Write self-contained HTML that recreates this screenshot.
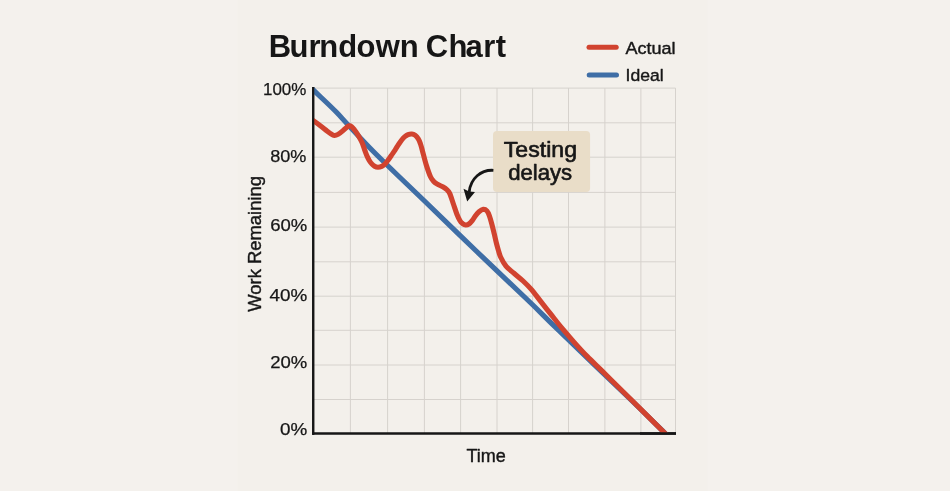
<!DOCTYPE html>
<html lang="en"><head><meta charset="utf-8"><title>Burndown Chart</title>
<style>
html,body{margin:0;padding:0;background:#f4f1ed;}
body{width:950px;height:491px;overflow:hidden;}
svg{display:block;will-change:transform;}
text{font-family:"Liberation Sans",sans-serif;fill:#161616;}
.m{stroke:#161616;stroke-width:0.4px;paint-order:stroke;stroke-linejoin:round;}
.l{stroke:#161616;stroke-width:0.25px;paint-order:stroke;stroke-linejoin:round;}
.c{stroke:#161616;stroke-width:0.65px;paint-order:stroke;stroke-linejoin:round;}
</style></head><body>
<svg width="950" height="491" viewBox="0 0 950 491">
<rect width="950" height="491" fill="#f4f1ed"/>
<rect x="237.7" y="0" width="470" height="491" fill="#f3f0eb"/>
<g stroke="#d6d2cd" stroke-width="1" fill="none"><line x1="350.4" y1="88.1" x2="350.4" y2="433.4"/><line x1="387.6" y1="88.1" x2="387.6" y2="433.4"/><line x1="424.4" y1="88.1" x2="424.4" y2="433.4"/><line x1="460.6" y1="88.1" x2="460.6" y2="433.4"/><line x1="497.0" y1="88.1" x2="497.0" y2="433.4"/><line x1="532.6" y1="88.1" x2="532.6" y2="433.4"/><line x1="568.5" y1="88.1" x2="568.5" y2="433.4"/><line x1="604.9" y1="88.1" x2="604.9" y2="433.4"/><line x1="640.9" y1="88.1" x2="640.9" y2="433.4"/><line x1="675.5" y1="88.1" x2="675.5" y2="433.4"/><line x1="313.5" y1="88.1" x2="675.5" y2="88.1"/><line x1="313.5" y1="122.8" x2="675.5" y2="122.8"/><line x1="313.5" y1="157.2" x2="675.5" y2="157.2"/><line x1="313.5" y1="192.4" x2="675.5" y2="192.4"/><line x1="313.5" y1="227.1" x2="675.5" y2="227.1"/><line x1="313.5" y1="261.8" x2="675.5" y2="261.8"/><line x1="313.5" y1="296.2" x2="675.5" y2="296.2"/><line x1="313.5" y1="330.3" x2="675.5" y2="330.3"/><line x1="313.5" y1="365.0" x2="675.5" y2="365.0"/><line x1="313.5" y1="399.5" x2="675.5" y2="399.5"/></g>
<line x1="313.2" y1="86.9" x2="313.2" y2="434.7" stroke="#161616" stroke-width="2.1"/>
<line x1="312.3" y1="433.4" x2="676" y2="433.4" stroke="#161616" stroke-width="2.5"/>
<defs><clipPath id="plot"><rect x="313.3" y="87" width="370" height="346.4"/></clipPath></defs>
<g clip-path="url(#plot)">
<path d="M309.0 85.8 C309.7 86.5 310.7 87.5 313.3 89.9 C315.9 92.4 320.5 96.8 324.4 100.5 C328.3 104.2 332.4 108.1 336.5 112.3 C340.6 116.5 342.7 119.1 348.7 125.5 C354.7 131.9 364.2 142.2 372.4 150.5 C380.6 158.8 389.3 167.2 397.9 175.5 C406.5 183.8 411.0 188.0 424.0 200.5 C437.0 213.0 458.3 233.8 475.7 250.5 C493.1 267.2 514.4 287.2 528.2 300.5 C542.1 313.8 541.6 313.8 558.8 330.5 C576.0 347.2 613.9 383.4 631.6 400.5 C649.3 417.6 658.6 426.9 664.8 433.0 C671.0 439.1 668.2 436.3 668.9 437.0" fill="none" stroke="#3f6ea6" stroke-width="5.1"/>
<path d="M309.0 117.4 C309.8 118.0 311.7 119.4 313.5 120.7 C315.3 122.0 317.8 123.7 320.0 125.4 C322.2 127.1 325.2 129.5 327.0 130.9 C328.8 132.3 329.8 133.1 331.0 133.9 C332.2 134.7 333.1 135.4 334.3 135.5 C335.5 135.6 336.6 135.2 338.0 134.4 C339.4 133.6 341.6 131.8 343.0 130.6 C344.4 129.4 345.5 128.2 346.5 127.4 C347.5 126.6 348.1 126.0 349.0 125.9 C349.9 125.8 350.8 126.0 351.7 126.7 C352.6 127.4 353.4 128.5 354.4 129.8 C355.4 131.1 356.6 132.8 357.6 134.4 C358.6 136.0 359.5 137.6 360.4 139.3 C361.3 141.0 362.1 142.5 362.8 144.4 C363.6 146.3 364.1 148.4 364.9 150.5 C365.7 152.6 366.6 155.2 367.4 156.9 C368.2 158.7 368.9 159.8 369.6 161.0 C370.3 162.2 371.0 163.0 371.8 163.9 C372.6 164.8 373.6 165.6 374.6 166.2 C375.6 166.8 376.8 167.2 378.0 167.2 C379.2 167.2 380.6 166.9 381.7 166.4 C382.8 165.9 383.9 164.9 384.9 164.0 C385.8 163.1 386.3 162.4 387.4 161.0 C388.5 159.6 390.0 157.4 391.3 155.5 C392.6 153.6 394.0 151.6 395.2 149.8 C396.4 148.0 397.4 146.1 398.5 144.5 C399.6 142.9 400.5 141.5 401.5 140.2 C402.5 138.9 403.4 137.8 404.5 136.9 C405.6 136.0 406.8 135.1 408.0 134.6 C409.2 134.1 410.6 133.9 411.8 134.0 C413.0 134.1 414.1 134.5 415.2 135.3 C416.3 136.1 417.4 137.4 418.3 138.8 C419.2 140.2 419.8 142.0 420.5 144.0 C421.2 146.0 421.4 147.1 422.4 150.7 C423.4 154.3 425.0 161.1 426.4 165.4 C427.8 169.8 429.3 174.2 430.5 176.8 C431.7 179.4 432.4 180.0 433.5 181.2 C434.6 182.4 435.7 183.2 437.3 184.2 C438.9 185.2 441.6 186.1 443.2 187.0 C444.8 187.9 445.9 188.7 447.0 189.8 C448.1 190.9 448.7 191.2 449.8 193.6 C450.9 196.0 452.2 200.5 453.4 204.0 C454.6 207.5 455.9 211.7 457.0 214.5 C458.1 217.3 459.1 219.2 460.0 220.7 C460.9 222.2 461.7 222.9 462.6 223.6 C463.6 224.3 464.6 224.9 465.7 225.0 C466.8 225.1 467.8 224.7 468.9 224.0 C470.0 223.3 471.1 222.1 472.2 220.7 C473.3 219.3 474.4 217.2 475.5 215.7 C476.6 214.2 477.7 212.9 479.0 211.8 C480.3 210.7 482.0 209.5 483.3 209.3 C484.6 209.2 485.9 209.8 486.9 210.9 C487.9 212.0 488.6 213.6 489.4 215.8 C490.2 218.0 491.0 221.0 491.8 224.0 C492.6 227.0 493.4 230.4 494.2 233.7 C495.0 236.9 495.8 240.8 496.5 243.5 C497.2 246.2 497.6 247.8 498.3 250.0 C499.0 252.2 499.3 254.3 500.6 257.0 C501.9 259.7 503.8 263.5 506.0 266.2 C508.2 268.9 511.1 270.8 514.0 273.3 C516.9 275.8 520.2 278.3 523.1 281.0 C526.0 283.7 528.2 285.8 531.3 289.4 C534.4 293.0 538.0 298.0 541.5 302.4 C545.0 306.8 548.5 311.3 552.0 315.7 C555.5 320.1 558.9 324.5 562.6 328.9 C566.3 333.3 569.9 337.5 574.0 342.1 C578.1 346.7 582.9 352.0 587.2 356.4 C591.5 360.8 595.7 364.7 599.7 368.6 C603.7 372.5 605.8 374.7 611.2 380.0 C616.6 385.3 623.0 391.6 632.0 400.5 C641.0 409.4 658.8 427.2 665.0 433.3 C671.2 439.4 668.3 436.6 669.0 437.3" fill="none" stroke="#d1432f" stroke-width="5.1" stroke-linejoin="round"/>
</g>
<line x1="313.2" y1="86.9" x2="313.2" y2="434.7" stroke="#161616" stroke-width="2.1"/>
<line x1="640" y1="433.4" x2="676" y2="433.4" stroke="#161616" stroke-width="2.5"/>
<text x="268.8 289.4 308.6 319.2 338.2 356.4 375.8 399.8 418.0 425.8 448.6 465.6 483.3 495.8" y="56.8" font-size="31" font-weight="700">Burndown Chart</text>
<line x1="589" y1="47.3" x2="616.2" y2="47.3" stroke="#d1432f" stroke-width="5" stroke-linecap="round"/>
<line x1="589.2" y1="75" x2="616.5" y2="75" stroke="#3f6ea6" stroke-width="5" stroke-linecap="round"/>
<text class="m" x="625.4" y="54" font-size="17.4" textLength="50.2" lengthAdjust="spacingAndGlyphs">Actual</text>
<text class="m" x="625.6" y="81.2" font-size="17.4" textLength="38.1" lengthAdjust="spacingAndGlyphs">Ideal</text>
<g font-size="17.3" class="l">
<text x="263.0" y="95.4" textLength="43.4" lengthAdjust="spacingAndGlyphs">100%</text>
<text x="270.2" y="161.6" textLength="36.2" lengthAdjust="spacingAndGlyphs">80%</text>
<text x="270.2" y="231.3" textLength="37.1" lengthAdjust="spacingAndGlyphs">60%</text>
<text x="269.5" y="300.7" textLength="37.8" lengthAdjust="spacingAndGlyphs">40%</text>
<text x="270.2" y="367.6" textLength="37.1" lengthAdjust="spacingAndGlyphs">20%</text>
<text x="280.0" y="434.8" textLength="27.3" lengthAdjust="spacingAndGlyphs">0%</text>
</g>
<text class="m" transform="translate(261 311.8) rotate(-90)" font-size="18" textLength="135.8" lengthAdjust="spacingAndGlyphs">Work Remaining</text>
<text class="m" x="466.5" y="461.9" font-size="18">Time</text>
<rect x="493" y="130.9" width="97.1" height="61.2" rx="4" fill="#e9ddc8"/>
<text class="c" x="503.8" y="157.2" font-size="22" textLength="73.2" lengthAdjust="spacingAndGlyphs">Testing</text>
<text class="c" x="508.2" y="180" font-size="22" textLength="64" lengthAdjust="spacingAndGlyphs">delays</text>
<path d="M493.4 170.3 C481 169.6 470.6 178.5 469.2 192" fill="none" stroke="#161616" stroke-width="2.8"/>
<path d="M463.5 188.7 L469.2 191.4 L475 191.9 L467.2 201.6 Z" fill="#161616"/>
</svg>
</body></html>
